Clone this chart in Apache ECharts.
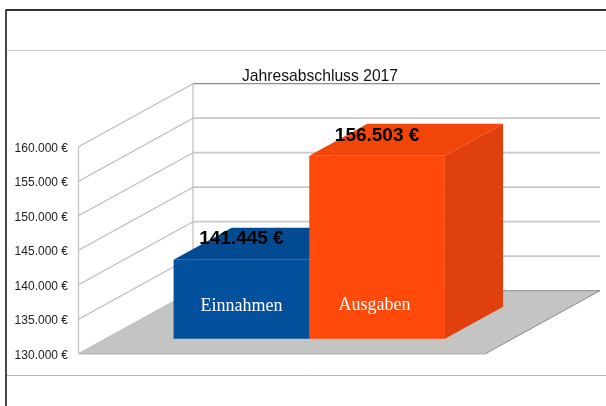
<!DOCTYPE html>
<html>
<head>
<meta charset="utf-8">
<style>html,body{margin:0;padding:0;background:#fff}#c{width:606px;height:406px}</style>
<script src="https://cdn.jsdelivr.net/npm/echarts@6/dist/echarts.min.js"></script>
</head>
<body>
<div id="c"></div>
<script>
const titleText = 'Jahresabschluss 2017';
const categories = ['2017'];
const seriesNames = ['Einnahmen', 'Ausgaben'];
const seriesValues = [141445, 156503];
const valueLabels = ['141.445 €', '156.503 €'];
const tickValues = [130000, 135000, 140000, 145000, 150000, 155000, 160000];
const seriesFront = ['#03509c', '#ff4a0b'];
const seriesTop = ['#024a92', '#f24509'];
const seriesSide = ['#02417f', '#df400d'];

const DEPTH_X = 114.5, DEPTH_Y = 63;
const BAR_NEAR = 0.238, BAR_FAR = 0.746;

function pt(p, f) { return [p[0] + DEPTH_X * f, p[1] - DEPTH_Y * f]; }
function fmt(v) { return '{a|' + String(v).replace(/(\d)(\d{3})$/, '$1.$2') + ' €}'; }

function renderWalls(params, api) {
  const v = api.value(1);
  const half = api.size([1, 0])[0] / 2;
  const c = api.coord([0, v]);
  const L = [c[0] - half, c[1]], R = [c[0] + half, c[1]];
  const children = [];
  const isMin = v === tickValues[0], isMax = v === tickValues[tickValues.length - 1];
  const col = isMax ? '#8c8c8c' : '#c8c8c8';
  if (isMin) {
    const a = api.coord([0, tickValues[tickValues.length - 1]]);
    children.push({ type: 'polygon', shape: { points: [L, R, pt(R, 1), pt(L, 1)] },
      style: { fill: '#c4c4c4', stroke: null } });
    children.push({ type: 'line', shape: { x1: R[0], y1: R[1], x2: pt(R, 1)[0], y2: pt(R, 1)[1] },
      style: { stroke: '#8a8a8a', lineWidth: 1 } });
    children.push({ type: 'line', shape: { x1: L[0], y1: L[1], x2: R[0], y2: R[1] },
      style: { stroke: '#b8b8b8', lineWidth: 1.6 } });
    children.push({ type: 'line', shape: { x1: pt(L, 1)[0], y1: pt(L, 1)[1], x2: pt(R, 1)[0], y2: pt(R, 1)[1] },
      style: { stroke: '#8c8c8c', lineWidth: 1 } });
    children.push({ type: 'line', shape: { x1: L[0], y1: L[1], x2: a[0] - half, y2: a[1] },
      style: { stroke: '#c0c0c0', lineWidth: 1.2 } });
    children.push({ type: 'line', shape: { x1: pt(L, 1)[0], y1: pt(L, 1)[1], x2: a[0] - half + DEPTH_X, y2: a[1] - DEPTH_Y },
      style: { stroke: '#c6c6c6', lineWidth: 1.4 } });
  } else {
    children.push({ type: 'line', shape: { x1: pt(L, 1)[0], y1: pt(L, 1)[1], x2: pt(R, 1)[0], y2: pt(R, 1)[1] },
      style: { stroke: col, lineWidth: isMax ? 1.2 : 1.7 } });
  }
  children.push({ type: 'line', shape: { x1: L[0], y1: L[1], x2: pt(L, 1)[0], y2: pt(L, 1)[1] },
    style: { stroke: '#bdbdbd', lineWidth: 1.3 } });
  return { type: 'group', children };
}

function barRenderer(idx) {
  return function (params, api) {
    const band = api.size([1, 0])[0];
    const w = band / 3;
    const base = api.coord([0, tickValues[0]]);
    const top = api.coord([0, api.value(1)]);
    const x0 = base[0] - w + idx * w, x1 = x0 + w;
    const bl = pt([x0, base[1]], BAR_NEAR), br = pt([x1, base[1]], BAR_NEAR);
    const tl = pt([x0, top[1]], BAR_NEAR), tr = pt([x1, top[1]], BAR_NEAR);
    const tlb = pt([x0, top[1]], BAR_FAR), trb = pt([x1, top[1]], BAR_FAR);
    const brb = pt([x1, base[1]], BAR_FAR);
    const cx = (x0 + x1) / 2 + DEPTH_X * BAR_NEAR;
    return { type: 'group', children: [
      { type: 'polygon', shape: { points: [br, brb, trb, tr] }, style: { fill: seriesSide[idx] } },
      { type: 'polygon', shape: { points: [tl, tr, trb, tlb] }, style: { fill: seriesTop[idx] } },
      { type: 'polygon', shape: { points: [bl, br, tr, tl] }, style: { fill: seriesFront[idx] } },
      { type: 'text', style: { x: cx, y: tl[1] - 20.5, text: valueLabels[idx], fill: '#000',
          font: 'bold 19px "Liberation Sans"', textAlign: 'center', textVerticalAlign: 'middle' } },
      { type: 'text', style: { x: cx - idx * 2.5, y: bl[1] - 32 - idx, text: seriesNames[idx], fill: '#fff',
          font: '18px "Liberation Serif"', textAlign: 'center', textVerticalAlign: 'middle' } }
    ] };
  };
}

function frameLine(x1, y1, x2, y2, stroke, lineWidth) {
  return { type: 'line', silent: true, z: 0, shape: { x1, y1, x2, y2 }, style: { stroke, lineWidth } };
}

const chart = echarts.init(document.getElementById('c'), null, { renderer: 'canvas', width: 606, height: 406 });
chart.setOption({
  animation: false,
  backgroundColor: '#fff',
  title: {
    text: titleText, left: 320, top: 68, textAlign: 'center', padding: 0,
    textStyle: { fontFamily: 'Liberation Sans', fontWeight: 'normal', fontSize: 15.7, color: '#111', lineHeight: 18 }
  },
  grid: { left: 78.5, top: 146.7, width: 407, height: 207 },
  xAxis: { type: 'category', data: categories, show: false },
  yAxis: {
    type: 'value', min: tickValues[0], max: tickValues[tickValues.length - 1], interval: 5000,
    splitLine: { show: false }, axisTick: { show: false }, axisLine: { show: false },
    axisLabel: { margin: 10.5, formatter: fmt,
      rich: { a: { fontFamily: 'Liberation Sans', fontSize: 12, color: '#222', padding: [3, 0, 0, 0] } } }
  },
  graphic: [
    frameLine(5.5, 10, 606, 10, '#333', 1.8),
    frameLine(6, 10, 6, 406, '#333', 1.8),
    frameLine(7, 50.5, 606, 50.5, '#cfcfcf', 1.2),
    frameLine(7, 375.5, 606, 375.5, '#b4b4b4', 1)
  ],
  series: [
    { type: 'custom', name: 'grid', z: 1, silent: true, renderItem: renderWalls,
      data: tickValues.map(v => [0, v]), encode: { x: 0, y: 1 } },
    ...seriesNames.map((n, i) => ({
      type: 'custom', name: n, z: 2 + i, renderItem: barRenderer(i),
      data: [[0, seriesValues[i]]], encode: { x: 0, y: 1 }
    }))
  ]
});
</script>
</body>
</html>
